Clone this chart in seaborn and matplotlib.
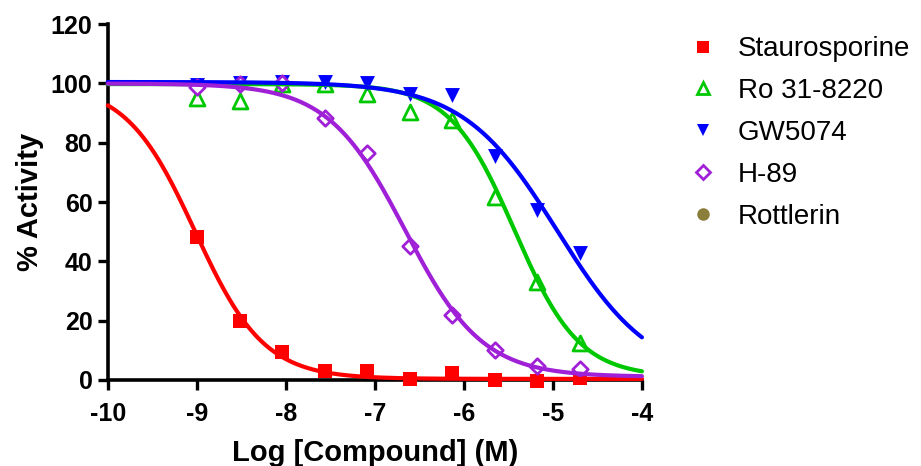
import numpy as np
import pandas as pd
import matplotlib
matplotlib.use("Agg")
import matplotlib.pyplot as plt
from matplotlib.lines import Line2D
import seaborn as sns

# ---- data ----
log_conc = [-9.0, -8.52, -8.04, -7.56, -7.09, -6.61, -6.13, -5.65, -5.18, -4.70]

staurosporine = [48.1, 19.7, 9.5, 2.8, 2.8, 0.2, 2.2, 0.0, -0.3, 0.5]
ro_31_8220 = [95.0, 94.1, 99.8, 99.8, 96.6, 90.4, 87.6, 61.8, 33.1, 12.4]
gw5074 = [99.4, 100.0, 100.5, 100.5, 100.2, 96.4, 96.1, 75.5, 57.3, 42.7]
h_89 = [98.8, 99.9, 100.0, 88.2, 76.6, 45.2, 21.9, 10.1, 4.7, 3.6]

compounds = ["Staurosporine", "Ro 31-8220", "GW5074", "H-89", "Rottlerin"]

# fitted 4-parameter logistic curves: (bottom, top, logIC50, hill)
fit_bottom = [0.3, 1.0, 0.0, 1.0]
fit_top = [100.0, 99.8, 100.5, 100.0]
fit_logic50 = [-9.02, -5.43, -4.95, -6.66]
fit_hill = [1.12, 1.2, 0.82, 1.0]

x_ticks = [-10, -9, -8, -7, -6, -5, -4]
y_ticks = [0, 20, 40, 60, 80, 100, 120]

# ---- styling ----
colors = {"Staurosporine": "#FF0000", "Ro 31-8220": "#00C800",
          "GW5074": "#0000FF", "H-89": "#A020D8", "Rottlerin": "#8B7D3A"}
markers = {"Staurosporine": "s", "Ro 31-8220": "^", "GW5074": "v",
           "H-89": "D", "Rottlerin": "o"}
filled = {"Staurosporine": True, "Ro 31-8220": False, "GW5074": True,
          "H-89": False, "Rottlerin": True}
msize = {"Staurosporine": 100, "Ro 31-8220": 115, "GW5074": 115, "H-89": 62,
         "Rottlerin": 80}

sns.set_style("ticks")
plt.rcParams["font.family"] = ["Liberation Sans", "DejaVu Sans"]
plt.rcParams["text.color"] = "black"
plt.rcParams["axes.labelcolor"] = "black"
plt.rcParams["xtick.color"] = "black"
plt.rcParams["ytick.color"] = "black"

points = pd.DataFrame({
    "x": log_conc * 4,
    "y": staurosporine + ro_31_8220 + gw5074 + h_89,
    "compound": sum([[c] * len(log_conc) for c in compounds[:4]], []),
})

xs = np.linspace(-10, -4, 300)
curve_rows = []
for c, b, t, ic, h in zip(compounds[:4], fit_bottom, fit_top, fit_logic50, fit_hill):
    ys = b + (t - b) / (1 + 10 ** ((xs - ic) * h))
    curve_rows.append(pd.DataFrame({"x": xs, "y": ys, "compound": c}))
curves = pd.concat(curve_rows, ignore_index=True)

fig = plt.figure(figsize=(9.21, 4.66), dpi=100)
ax = fig.add_axes([0.117, 0.185, 0.580, 0.763])

for c in compounds[:4]:
    sub = points[points["compound"] == c]
    if filled[c]:
        sns.scatterplot(data=sub, x="x", y="y", ax=ax, marker=markers[c],
                        color=colors[c], s=msize[c], linewidth=0,
                        clip_on=False, zorder=3, legend=False)
    else:
        sns.scatterplot(data=sub, x="x", y="y", ax=ax, marker=markers[c],
                        facecolor="white", edgecolor=colors[c], s=msize[c],
                        linewidth=2.0, clip_on=False, zorder=3, legend=False)

for c in compounds[:4]:
    sub = curves[curves["compound"] == c]
    sns.lineplot(data=sub, x="x", y="y", ax=ax, color=colors[c],
                 linewidth=3.0, zorder=4, legend=False, clip_on=False)

ax.set_xlim(-10, -4)
ax.set_ylim(0, 120)
ax.set_xticks(x_ticks)
ax.set_yticks(y_ticks)
ax.set_xticklabels([str(v) for v in x_ticks], fontsize=18, fontweight="bold")
ax.set_yticklabels([str(v) for v in y_ticks], fontsize=18, fontweight="bold")
ax.tick_params(axis="both", direction="out", length=7, width=2.4, color="black")
ax.tick_params(axis="x", pad=9)
ax.tick_params(axis="y", pad=4)
for side in ["top", "right"]:
    ax.spines[side].set_visible(False)
for side in ["left", "bottom"]:
    ax.spines[side].set_linewidth(2.6)
    ax.spines[side].set_color("black")

ax.set_xlabel("Log [Compound] (M)", fontsize=21, fontweight="bold", labelpad=9)
ax.set_ylabel("% Activity", fontsize=21, fontweight="bold", labelpad=5)

handles = []
for c in compounds:
    if filled[c]:
        h = Line2D([], [], linestyle="none", marker=markers[c], markersize=9,
                   markerfacecolor=colors[c], markeredgecolor=colors[c], markeredgewidth=0)
    else:
        h = Line2D([], [], linestyle="none", marker=markers[c],
                   markersize=8.5 if c != "H-89" else 7,
                   markerfacecolor="white", markeredgecolor=colors[c], markeredgewidth=2)
    handles.append(h)
fig.legend(handles, compounds, loc="upper left", bbox_to_anchor=(0.748, 0.922),
           frameon=False, fontsize=20, handletextpad=0.75, labelspacing=0.57,
           handlelength=1.0, borderaxespad=0, borderpad=0)

fig.savefig("out.png", dpi=100)
